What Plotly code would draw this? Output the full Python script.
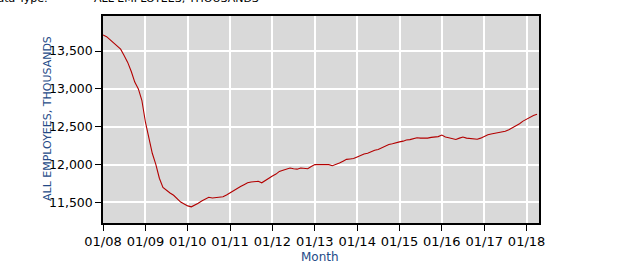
import plotly.graph_objects as go
import pandas as pd

# Monthly values, Jan 2008 - Apr 2018 (all employees, thousands)
values_2008 = [13712, 13690, 13650, 13610, 13565, 13525, 13440, 13350, 13230, 13090, 13000, 12850]
values_2009 = [12560, 12330, 12150, 12000, 11820, 11700, 11660, 11625, 11595, 11545, 11505, 11480]
values_2010 = [11455, 11443, 11462, 11490, 11520, 11550, 11568, 11560, 11565, 11570, 11575, 11600]
values_2011 = [11630, 11660, 11690, 11710, 11735, 11760, 11770, 11775, 11780, 11760, 11790, 11830]
values_2012 = [11850, 11875, 11910, 11925, 11935, 11955, 11945, 11940, 11955, 11950, 11945, 11975]
values_2013 = [12000, 12000, 12000, 12000, 12000, 11985, 12000, 12020, 12045, 12070, 12075, 12080]
values_2014 = [12100, 12125, 12140, 12150, 12170, 12190, 12200, 12225, 12250, 12265, 12275, 12290]
values_2015 = [12300, 12310, 12325, 12330, 12340, 12355, 12350, 12345, 12350, 12360, 12365, 12370]
values_2016 = [12390, 12365, 12355, 12340, 12332, 12350, 12365, 12350, 12345, 12338, 12335, 12350]
values_2017 = [12375, 12395, 12405, 12415, 12420, 12425, 12440, 12460, 12485, 12505, 12540, 12575]
values_2018 = [12600, 12630, 12650, 12665]

values = (values_2008 + values_2009 + values_2010 + values_2011 + values_2012 + values_2013
          + values_2014 + values_2015 + values_2016 + values_2017 + values_2018)
months = pd.date_range("2008-01-01", periods=len(values), freq="MS")

tick_dates = pd.date_range("2008-01-01", "2018-01-01", freq="YS")
tick_labels = ["01/08", "01/09", "01/10", "01/11", "01/12", "01/13",
               "01/14", "01/15", "01/16", "01/17", "01/18"]
y_ticks = [11500, 12000, 12500, 13000, 13500]

FONT = "DejaVu Sans"
BLUE = "#244a87"

fig = go.Figure()
fig.add_trace(go.Scatter(x=months, y=values, mode="lines",
                         line=dict(color="#b30000", width=1.1),
                         hoverinfo="skip", showlegend=False))

L, R, T, B = 103, 86, 16, 46
W, H = 625, 269
pw, ph = W - L - R, H - T - B

def px_x(x):
    return (x - L) / pw

def px_y(y):
    return (H - B - y) / ph

fig.update_layout(
    width=W, height=H,
    margin=dict(l=L, r=R, t=T, b=B, pad=0),
    paper_bgcolor="white",
    plot_bgcolor="#d9d9d9",
    font=dict(family=FONT, size=12, color="black"),
    xaxis=dict(
        type="date",
        range=["2008-01-01", "2018-04-18"],
        tickvals=list(tick_dates), ticktext=tick_labels,
        ticks="outside", ticklen=6, tickcolor="black", tickwidth=1,
        showgrid=True, gridcolor="white", gridwidth=1.5,
        showline=True, linecolor="black", linewidth=1.5, mirror=True,
        zeroline=False,
        tickfont=dict(family=FONT, size=13, color="black"),
    ),
    yaxis=dict(
        range=[11229, 13963],
        tickvals=y_ticks, tickformat=",",
        ticks="outside", ticklen=6, tickcolor="black", tickwidth=1,
        showgrid=True, gridcolor="white", gridwidth=1.5,
        showline=True, linecolor="black", linewidth=1.5, mirror=True,
        zeroline=False,
        tickfont=dict(family=FONT, size=12.5, color="black"),
    ),
    annotations=[
        dict(text="ALL EMPLOYEES, THOUSANDS", textangle=-90,
             xref="paper", yref="paper", x=px_x(47), y=px_y(119),
             xanchor="center", yanchor="middle", showarrow=False,
             font=dict(family=FONT, size=11, color=BLUE)),
        dict(text="Month", xref="paper", yref="paper",
             x=px_x(320), y=px_y(257), xanchor="center", yanchor="middle",
             showarrow=False, font=dict(family=FONT, size=12, color=BLUE)),
        dict(text="Data Type:", xref="paper", yref="paper",
             x=px_x(50), y=px_y(-2), xanchor="right", yanchor="middle",
             showarrow=False, font=dict(family=FONT, size=11, color="black")),
        dict(text="ALL EMPLOYEES, THOUSANDS", xref="paper", yref="paper",
             x=px_x(92), y=px_y(-2), xanchor="left", yanchor="middle",
             showarrow=False, font=dict(family=FONT, size=11, color="black")),
    ],
)

fig.write_html("out.html")
